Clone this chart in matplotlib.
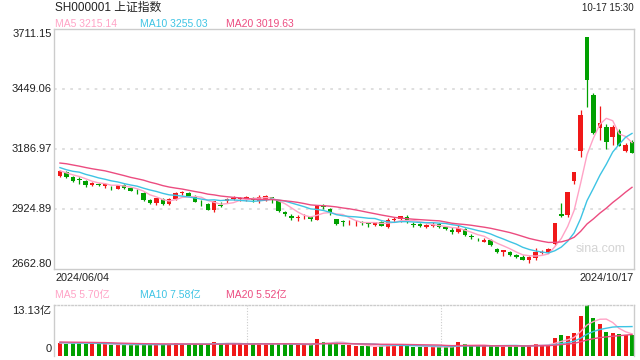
import numpy as np
import pandas as pd
import matplotlib
matplotlib.use('Agg')
import matplotlib.pyplot as plt
import matplotlib.transforms as mtransforms

plt.rcParams['font.family'] = ['Liberation Sans', 'Noto Sans CJK SC', 'DejaVu Sans']

# daily candles, 2024/06/04 .. 2024/10/17
opens = [3069, 3087, 3066, 3052, 3048, 3029, 3035, 3025, 3018, 3014,
         3030, 3018, 3001, 2995, 2963, 2950, 2970, 2946,
         2968, 2993, 2995, 2981, 2952, 2947, 2921, 2944, 2960, 2968,
         2968, 2971, 2974, 2960, 2970, 2976, 2963, 2912, 2893, 2884,
         2889, 2889, 2877,
         2936, 2925, 2880, 2874, 2866, 2866, 2868, 2862, 2856, 2868,
         2846, 2875, 2880, 2892, 2861, 2860, 2848, 2852, 2858, 2848,
         2833, 2823,
         2838, 2806, 2786, 2782, 2788, 2748, 2735, 2739, 2722, 2716,
         2704, 2713, 2733, 2739, 2770, 2901, 2899, 3049, 3180,
         3674.40, 3424, 3280, 3281, 3240, 3266, 3180, 3218]
highs = [3095, 3089, 3069, 3066, 3050, 3041, 3038, 3037, 3025, 3030,
         3034, 3020, 3011, 2999, 2968, 2974, 2973, 2971,
         3000, 3003, 2998, 2984, 2966, 2950, 2961, 2955, 2974, 2983,
         2979, 2980, 2979, 2985, 2986, 2977, 2964, 2917, 2905, 2897,
         2902, 2893, 2942,
         2947, 2929, 2881, 2876, 2878, 2878, 2874, 2869, 2870, 2873,
         2886, 2891, 2894, 2897, 2867, 2862, 2860, 2866, 2865, 2852,
         2845, 2856,
         2844, 2816, 2798, 2799, 2795, 2754, 2745, 2741, 2728, 2722,
         2721, 2755, 2744, 2753, 2864, 2952, 3001, 3088, 3358,
         3674.40, 3431, 3375, 3296, 3290, 3274, 3212, 3226]
lows = [3063, 3060, 3044, 3036, 3023, 3024, 3024, 3015, 3008, 3013,
        3013, 3004, 2990, 2960, 2946, 2942, 2943, 2944,
        2963, 2988, 2980, 2956, 2936, 2919, 2912, 2934, 2953, 2964,
        2962, 2962, 2956, 2952, 2962, 2951, 2913, 2895, 2877, 2874,
        2882, 2872, 2876,
        2927, 2898, 2853, 2850, 2857, 2851, 2856, 2847, 2851, 2850,
        2844, 2866, 2869, 2862, 2848, 2846, 2840, 2847, 2843, 2832,
        2815, 2820,
        2808, 2792, 2783, 2779, 2765, 2732, 2718, 2720, 2712, 2701,
        2690, 2702, 2729, 2733, 2766, 2889, 2889, 3033, 3152,
        3370, 3254, 3226, 3187, 3205, 3199, 3174, 3169]
closes = [3091.20, 3065.40, 3048.79, 3051.28, 3028.05, 3037.47, 3028.92, 3032.63, 3015.89, 3030.25,
          3018.05, 3005.44, 2998.14, 2963.10, 2950.00, 2972.53, 2945.85, 2967.40,
          2994.73, 2997.01, 2982.38, 2957.57, 2949.93, 2922.45, 2959.37, 2939.36, 2970.39, 2971.30,
          2974.01, 2976.30, 2962.86, 2977.13, 2982.31, 2964.22, 2915.37, 2901.95, 2886.43, 2890.90,
          2891.85, 2879.30, 2938.75,
          2932.39, 2905.34, 2860.70, 2867.28, 2869.90, 2869.83, 2862.19, 2858.20, 2867.95, 2850.65,
          2877.36, 2879.43, 2893.67, 2866.66, 2856.58, 2848.77, 2854.37, 2855.52, 2848.32, 2837.43,
          2823.11, 2842.21,
          2811.04, 2802.98, 2784.28, 2788.31, 2765.81, 2736.49, 2744.19, 2721.80, 2717.12, 2704.09,
          2717.28, 2736.02, 2736.81, 2748.92, 2863.13, 2896.31, 3000.95, 3087.53, 3336.50,
          3489.78, 3258.86, 3301.93, 3217.74, 3284.32, 3201.29, 3202.95, 3169.38]
volumes = [3.4, 3.2, 3.5, 3.4, 3.2, 3.1, 3.0, 3.1, 2.9, 2.8,
           3.0, 2.8, 3.1, 3.0, 2.9, 3.0, 2.9, 3.2,
           3.4, 3.0, 3.1, 3.0, 3.1, 3.1, 3.6, 3.0, 3.4, 3.2,
           3.0, 2.9, 3.0, 3.3, 3.2, 3.0, 3.3, 3.0, 3.0, 2.8,
           2.8, 2.9, 4.3,
           3.5, 3.3, 3.7, 2.9, 2.8, 2.6, 2.6, 2.5, 2.4, 2.5,
           3.2, 2.9, 2.8, 2.7, 2.4, 2.4, 2.3, 2.3, 2.4, 2.3,
           2.4, 3.7,
           3.1, 2.6, 2.5, 2.5, 2.6, 2.5, 2.6, 2.6, 2.5, 2.7,
           2.9, 3.1, 2.9, 2.8, 4.6, 5.4, 5.2, 6.0, 10.2,
           13.13, 9.8, 8.17, 6.2, 5.8, 5.6, 5.4, 5.5]

# 19 sessions before the window, needed for the moving averages
prev_closes = [3128.48, 3154.32, 3154.55, 3148.02, 3145.77, 3119.90, 3122.40, 3154.03, 3171.15, 3157.97,
               3158.54, 3116.39, 3088.87, 3124.04, 3109.57, 3111.02, 3091.68, 3086.81, 3078.49]
prev_volumes = [3.7, 3.9, 3.8, 3.6, 3.5, 3.6, 3.4, 4.0, 4.1, 3.8,
                3.7, 3.9, 3.6, 3.3, 3.4, 3.3, 3.5, 3.3, 3.2]

y_ticks = [3711.15, 3449.06, 3186.97, 2924.89, 2662.80]
vol_top = 13.13
first_date = '2024/06/04'
last_date = '2024/10/17'
ma_labels = ['MA5 3215.14', 'MA10 3255.03', 'MA20 3019.63']
vol_ma_labels = ['MA5 5.70亿', 'MA10 7.58亿', 'MA20 5.52亿']

RED = '#f01818'
GREEN = '#00a000'
MA_COLORS = ['#ffa3c6', '#3ec4e4', '#ec4c80']
W, H = 640, 360


def fx(x):
    return x / W


def fy(y):
    return 1 - y / H


n = len(closes)
xs = np.arange(n)
o = np.array(opens, float)
c = np.array(closes, float)
up = c >= o
colors = np.where(up, RED, GREEN)

all_c = pd.Series(prev_closes + closes)
all_v = pd.Series(prev_volumes + volumes)
ma_c = [all_c.rolling(k).mean().values[len(prev_closes):] for k in (5, 10, 20)]
ma_v = [all_v.rolling(k).mean().values[len(prev_volumes):] for k in (5, 10, 20)]

fig = plt.figure(figsize=(6.4, 3.6), dpi=100)
ax = fig.add_axes([fx(54), fy(269), fx(580), 240 / H])
axv = fig.add_axes([fx(54), fy(356), fx(580), 51 / H])

xlim = (-0.93, n - 1 + 0.31)

# price panel
for t in y_ticks[1:-1]:
    ax.axhline(t, color='#dcdcdc', lw=1.3, ls=(0, (1.5, 3)), zorder=0)
ax.vlines(xs, lows, highs, colors=colors, lw=0.9, zorder=2)
body = np.maximum(np.abs(c - o), 2.5)
ax.bar(xs, body, bottom=np.minimum(o, c), width=0.7, color=colors, lw=0, zorder=3)
for ma, col in zip(ma_c, MA_COLORS):
    ax.plot(xs, ma, color=col, lw=1.0, zorder=4)
ax.set_xlim(*xlim)
ax.set_ylim(y_ticks[-1], y_ticks[0])
ax.set_xticks([])
ax.set_yticks([])
for s in ax.spines.values():
    s.set_color('#cccccc')
    s.set_linewidth(1.0)

trans = mtransforms.blended_transform_factory(fig.transFigure, ax.transData)
for i, t in enumerate(y_ticks):
    va = 'top' if i == 0 else ('bottom' if i == len(y_ticks) - 1 else 'center')
    ax.text(fx(51.5), t, f'{t:.2f}', transform=trans, ha='right', va=va,
            fontsize=8, color='#222222')

ax.text(0.985, 0.085, 'sina.com', transform=ax.transAxes, ha='right', va='center',
        fontsize=9, color='#d4d4d4')

# volume panel
axv.bar(xs, volumes, width=0.62, color=colors, lw=0, zorder=2)
for ma, col in zip(ma_v, MA_COLORS):
    axv.plot(xs, ma, color=col, lw=1.0, zorder=3)
axv.set_xlim(*xlim)
axv.set_ylim(0, vol_top)
axv.set_xticks([])
axv.set_yticks([])
for k in (1, 2):
    xv = xlim[0] + (xlim[1] - xlim[0]) * k / 3
    axv.axvline(xv, color='#cccccc', lw=0.8, ls=(0, (1, 1.5)), zorder=0)
axv.spines['top'].set_linestyle((0, (1, 1.5)))
axv.spines['bottom'].set_visible(False)
for s in axv.spines.values():
    s.set_color('#cccccc')
    s.set_linewidth(1.0)

fig.text(fx(51.5), fy(306), f'{vol_top:.2f}亿', ha='right', va='top', fontsize=8, color='#222222')
fig.text(fx(51.5), fy(354), '0', ha='right', va='bottom', fontsize=8, color='#222222')

# header texts
fig.text(fx(55), fy(8), 'SH000001 上证指数', ha='left', va='center', fontsize=8.5, color='#222222')
fig.text(fx(634), fy(8), '10-17 15:30', ha='right', va='center', fontsize=7, color='#222222')
for lab, col, x0 in zip(ma_labels, MA_COLORS, (55, 140.5, 225.5)):
    fig.text(fx(x0), fy(24), lab, ha='left', va='center', fontsize=7.5, color=col)
fig.text(fx(55), fy(278), first_date, ha='left', va='center', fontsize=7.8, color='#222222')
fig.text(fx(634), fy(278), last_date, ha='right', va='center', fontsize=7.8, color='#222222')
for lab, col, x0 in zip(vol_ma_labels, MA_COLORS, (55, 140.5, 225.5)):
    fig.text(fx(x0), fy(295), lab, ha='left', va='center', fontsize=7.5, color=col)

fig.savefig('out.png', dpi=100)
